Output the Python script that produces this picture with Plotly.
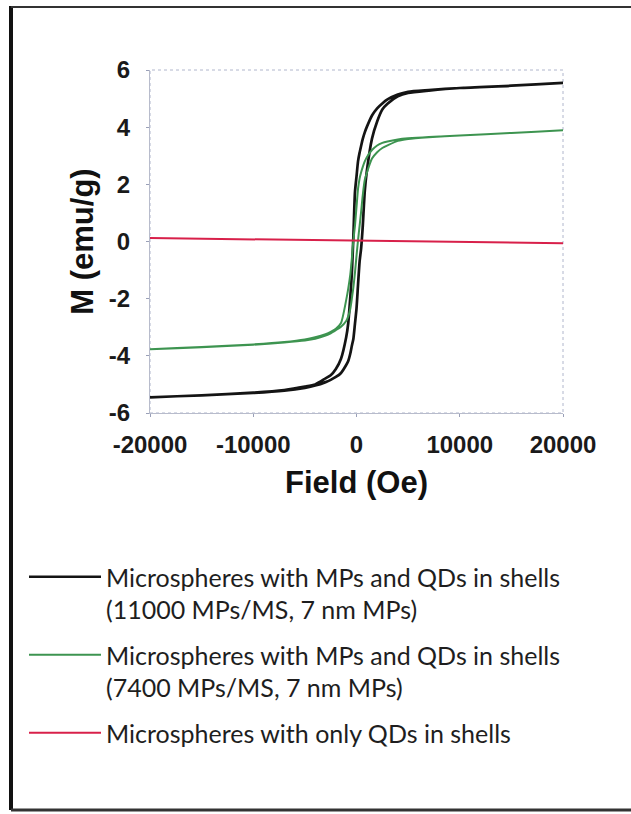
import plotly.graph_objects as go

# Field values (Oe): descending branch (+H -> -H) and ascending branch (-H -> +H)
H_desc = [20000, 15000, 10000, 7000, 5000, 4000, 3000, 2500, 2000, 1500, 1000, 800, 600, 450, 300, 150, 0,
          -150, -300, -450, -600, -800, -1000, -1500, -2000, -2500, -3000, -4000, -5000, -7000, -10000,
          -15000, -20000]
H_asc = [-20000, -15000, -10000, -7000, -5000, -4000, -3000, -2500, -2000, -1500, -1000, -800, -600, -450,
         -300, -150, 0, 150, 300, 450, 600, 800, 1000, 1500, 2000, 2500, 3000, 4000, 5000, 7000, 10000,
         15000, 20000]

# 11000 MPs/MS loop (emu/g)
M_black_desc = [5.55, 5.45, 5.37, 5.30, 5.24, 5.14, 4.97, 4.83, 4.66, 4.41, 4.01, 3.82, 3.58, 3.35, 3.11,
                2.81, 2.27, 1.72, 0.20, -1.12, -1.94, -2.86, -3.35, -4.10, -4.46, -4.68, -4.79, -5.00,
                -5.08, -5.20, -5.29, -5.38, -5.45]
M_black_asc = [-5.45, -5.38, -5.30, -5.22, -5.12, -5.04, -4.92, -4.84, -4.74, -4.60, -4.32, -4.18, -3.92,
               -3.65, -3.40, -2.88, -2.35, -1.50, -0.70, -0.23, 0.50, 1.75, 2.46, 3.60, 4.20, 4.62, 4.82,
               5.08, 5.20, 5.28, 5.37, 5.45, 5.55]

# 7400 MPs/MS loop (emu/g)
M_green_desc = [3.89, 3.80, 3.71, 3.66, 3.61, 3.57, 3.50, 3.45, 3.36, 3.20, 2.95, 2.80, 2.60, 2.42, 2.20,
                1.85, 1.20, 0.55, 0.05, -0.60, -1.15, -1.65, -2.05, -2.85, -3.05, -3.16, -3.24, -3.35,
                -3.43, -3.52, -3.60, -3.69, -3.77]
M_green_asc = [-3.77, -3.70, -3.61, -3.53, -3.46, -3.40, -3.29, -3.21, -3.10, -2.98, -2.78, -2.62, -2.35,
               -2.00, -1.60, -1.10, -0.50, 0.05, 0.55, 1.05, 1.60, 2.15, 2.40, 2.90, 3.12, 3.27, 3.36,
               3.52, 3.59, 3.65, 3.71, 3.80, 3.89]

# Only QDs (emu/g)
H_red = [-20000, -10000, 0, 10000, 20000]
M_red = [0.12, 0.08, 0.03, -0.01, -0.06]

names = [
    "Microspheres with MPs and QDs in shells<br>(11000 MPs/MS, 7 nm MPs)",
    "Microspheres with MPs and QDs in shells<br>(7400 MPs/MS, 7 nm MPs)",
    "Microspheres with only QDs in shells",
]
x_ticks = [-20000, -10000, 0, 10000, 20000]
y_ticks = [-6, -4, -2, 0, 2, 4, 6]

W, H = 631, 814
L, R, T, B = 150, 563, 70, 413

fig = go.Figure()
fig.add_trace(go.Scatter(x=H_desc + H_asc, y=M_black_desc + M_black_asc, mode="lines",
                         line=dict(color="#141414", width=2.7, shape="spline", smoothing=0.6),
                         name=names[0], legendgroup="a"))
fig.add_trace(go.Scatter(x=H_desc + H_asc, y=M_green_desc + M_green_asc, mode="lines",
                         line=dict(color="#3d9450", width=2, shape="spline", smoothing=0.6),
                         name=names[1], legendgroup="b"))
fig.add_trace(go.Scatter(x=H_red, y=M_red, mode="lines",
                         line=dict(color="#d8204a", width=2),
                         name=names[2], legendgroup="c"))

tick_font = dict(family="Liberation Sans", size=24, color="#1a1a1a", weight="bold")
title_font = dict(family="Liberation Sans", size=31, color="#111111", weight="bold")

fig.update_layout(
    width=W, height=H,
    margin=dict(l=L, r=W - R, t=T, b=H - B, autoexpand=False),
    paper_bgcolor="white", plot_bgcolor="white",
    xaxis=dict(range=[-20000, 20000], tickvals=x_ticks, ticktext=[str(v) for v in x_ticks],
               showgrid=False, zeroline=False, showline=True, linecolor="#b8bccc", linewidth=1,
               ticks="outside", ticklen=3, tickcolor="#9aa0b8", ticklabelstandoff=7,
               tickfont=tick_font,
               title=dict(text="Field (Oe)", font=title_font, standoff=14),
               automargin=False),
    yaxis=dict(range=[-6, 6], tickvals=y_ticks, ticktext=[str(v) for v in y_ticks],
               showgrid=False, zeroline=False, showline=True, linecolor="#b8bccc", linewidth=1,
               ticks="outside", ticklen=3, tickcolor="#9aa0b8", ticklabelstandoff=11,
               tickfont=tick_font,
               title=dict(text="M (emu/g)", font=title_font, standoff=6),
               automargin=False),
    showlegend=True,
    legend=dict(x=(24 - L) / (R - L), y=(B - 554) / (B - T), xanchor="left", yanchor="top",
                font=dict(family="Lato", size=25, color="#1e1e1e"),
                traceorder="grouped", tracegroupgap=10, valign="top",
                itemwidth=72, bgcolor="rgba(0,0,0,0)"),
    shapes=[
        dict(type="rect", xref="x domain", yref="y domain", x0=0, x1=1, y0=0, y1=1,
             line=dict(color="#b0b6cc", width=1, dash="dot"), layer="below"),
        dict(type="line", xref="paper", yref="paper",
             x0=(11 - L) / (R - L), x1=(11 - L) / (R - L), y0=(B - 6) / (B - T), y1=(B - 810) / (B - T),
             line=dict(color="#111111", width=4)),
        dict(type="line", xref="paper", yref="paper",
             x0=(11 - L) / (R - L), x1=(W + 5 - L) / (R - L), y0=(B - 7) / (B - T), y1=(B - 7) / (B - T),
             line=dict(color="#333333", width=2)),
        dict(type="line", xref="paper", yref="paper",
             x0=(11 - L) / (R - L), x1=(W + 5 - L) / (R - L), y0=(B - 810) / (B - T), y1=(B - 810) / (B - T),
             line=dict(color="#333333", width=3)),
    ],
)

fig.write_html("out.html")
